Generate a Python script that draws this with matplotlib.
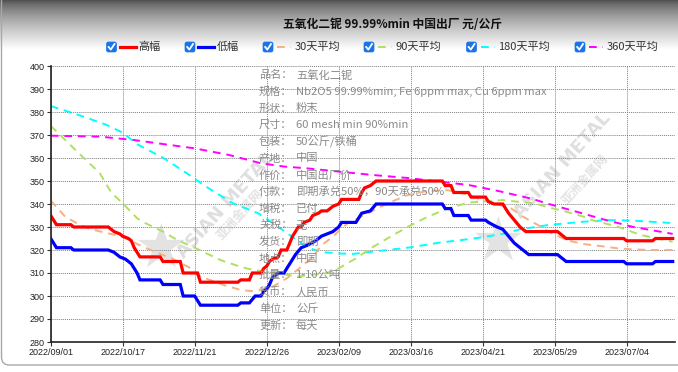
import matplotlib
matplotlib.use("Agg")
import matplotlib.pyplot as plt
import numpy as np
from matplotlib.patches import FancyBboxPatch
from matplotlib.lines import Line2D
from matplotlib.transforms import IdentityTransform

W, H = 678, 372
CJK = ["Noto Sans CJK SC", "DejaVu Sans"]

# ---- data (trading-day index, price) ----
date_labels = ["2022/09/01", "2022/10/17", "2022/11/21", "2022/12/26", "2023/02/09",
               "2023/03/16", "2023/04/21", "2023/05/29", "2023/07/04"]
tick_step = 25
last_day = 216

high_idx = [0, 1, 2, 7, 8, 20, 21, 22, 24, 25, 27, 28, 29, 31, 38, 39, 45, 46, 51, 52,
            65, 66, 69, 70, 73, 74, 75, 76, 77, 79, 80, 82, 83, 84, 85, 86, 87, 88, 90, 91,
            93, 94, 96, 97, 98, 100, 101, 107, 108, 109, 111, 113, 136, 137, 139, 140, 145,
            146, 151, 152, 154, 157, 158, 159, 161, 163, 165, 176, 178, 179, 199, 200, 209,
            210, 216]
high_val = [335, 333, 331, 331, 330, 330, 329, 328, 327, 326, 325, 324, 321, 317, 317, 315,
            315, 310, 310, 306, 306, 307, 307, 310, 310, 312, 313, 315, 316, 317, 320, 320,
            323, 326, 328, 330, 330, 332, 333, 335, 336, 337, 337, 338, 339, 340, 342, 342,
            345, 347, 348, 350, 350, 348, 348, 345, 345, 343, 343, 341, 340, 340, 338, 336,
            333, 330, 328, 328, 326, 325, 325, 324, 324, 325, 325]

low_idx = [0, 1, 2, 7, 8, 20, 22, 24, 26, 28, 30, 31, 38, 39, 45, 46, 50, 52, 65, 66, 69,
           71, 73, 74, 75, 76, 77, 79, 81, 82, 83, 85, 87, 89, 92, 94, 96, 98, 100, 101, 106,
           108, 111, 113, 136, 137, 139, 140, 145, 146, 151, 152, 155, 157, 159, 161, 162,
           164, 166, 176, 178, 179, 199, 200, 209, 210, 216]
low_val = [325, 323, 321, 321, 320, 320, 319, 317, 316, 314, 310, 307, 307, 305, 305, 300,
           300, 296, 296, 297, 297, 300, 300, 302, 303, 305, 308, 310, 310, 312, 314, 318,
           321, 322, 324, 326, 327, 328, 330, 332, 332, 336, 337, 340, 340, 338, 338, 335,
           335, 333, 333, 332, 330, 329, 326, 323, 322, 320, 318, 318, 316, 315, 315, 314,
           314, 315, 315]

ma30_idx = [0, 5, 10, 14, 19, 25, 30, 36, 42, 48, 52, 60, 66, 71, 77, 82, 87, 91, 94, 98,
            101, 103, 110, 117, 124, 131, 138, 145, 150, 155, 160, 164, 169, 173, 179, 185,
            191, 197, 202, 208, 216]
ma30 = [341.5, 334.5, 331, 329, 327.5, 325.8, 322.6, 319.3, 316.4, 312.5, 308.5, 304.8,
        302.6, 302, 304, 307.7, 312.7, 317, 322, 325.8, 329.4, 331.5, 335.9, 340.3, 343.9,
        345.7, 346, 344, 341.7, 340, 338, 334.5, 331, 328, 324.3, 322.6, 321.7, 320.7,
        320.3, 320, 320]

ma90_idx = [0, 9, 17, 21, 25, 30, 33, 39, 44, 50, 59, 64, 68, 74, 78, 86, 96, 100, 106,
            112, 118, 124, 131, 138, 145, 151, 157, 162, 168, 173, 179, 185, 188, 197, 205, 216]
ma90 = [374, 363, 353.5, 345, 340.3, 333.8, 331.6, 328, 324.3, 321, 315.6, 313.5, 312,
        310.6, 310, 308.5, 310, 312, 316.4, 321.4, 325.8, 330.1, 334.5, 338.1, 340.6, 341.2,
        341.7, 341, 340.3, 338.5, 336.7, 334.5, 333, 330.1, 326.5, 323.6]

ma180_idx = [0, 9, 19, 25, 30, 39, 47, 54, 63, 72, 78, 83, 87, 91, 95, 100, 105, 112, 124,
             135, 147, 157, 163, 173, 185, 194, 202, 216]
ma180 = [382.6, 379, 374.6, 371, 366, 360.1, 353.6, 347.5, 340.5, 336, 331, 326.5, 323,
         320.3, 319, 318.5, 318.3, 319.3, 321, 323.2, 325, 327, 329, 330.9, 332.3, 333,
         332.8, 331.7]

ma360_idx = [0, 17, 29, 40, 50, 62, 73, 81, 89, 100, 112, 124, 135, 145, 156, 167, 173,
             183, 192, 202, 216]
ma360 = [369.7, 369.3, 367.8, 365.9, 364.2, 361.3, 357.7, 356.3, 355.5, 354.1, 352.6,
         351.3, 349.7, 348.3, 345.5, 342.3, 340, 336.5, 333.3, 330.1, 327]

info_labels = ["品名：", "规格：", "形状：", "尺寸：", "包装：", "产地：", "作价：", "付款：",
               "增税：", "关税：", "发货：", "地点：", "批量：", "货币：", "单位：", "更新："]
info_values = ["五氧化二铌", "Nb2O5 99.99%min, Fe 6ppm max, Cu 6ppm max", "粉末",
               "60 mesh min 90%min", "50公斤/铁桶", "中国", "中国出厂价",
               "即期承兑50%，90天承兑50%", "已付", "无", "即期", "中国", "1-10公吨",
               "人民币", "公斤", "每天"]

series_names = ["高幅", "低幅", "30天平均", "90天平均", "180天平均", "360天平均"]
colors = ["#ff0000", "#0000ff", "#f4b183", "#b0e060", "#00ffff", "#ff00ff"]


def fx(px):
    return px / W


def fy(py):
    return 1 - py / H


fig = plt.figure(figsize=(W / 100, H / 100), dpi=100)
fig.patch.set_facecolor("white")

# grey gradient header
gax = fig.add_axes([0, fy(50), 1, 50 / H], zorder=0)
grad = np.linspace(0, 1, 200)[:, None] ** 0.7
gax.imshow(0.3 + 0.7 * grad, cmap="gray", vmin=0, vmax=1, aspect="auto",
           extent=[0, 1, 0, 1])
gax.axis("off")

# outer rounded frame
frame = FancyBboxPatch((1.5, 7), W + 20, H + 20, boxstyle="round,pad=0,rounding_size=8",
                       transform=IdentityTransform(), fill=False, ec="#a8a8a8", lw=1)
fig.patches.append(frame)

ax = fig.add_axes([fx(50.7), 30 / H, (675 - 50.7) / W, 276 / H], zorder=2)
ax.set_facecolor("none")

# watermarks
for (sx, sy), (tx, ty), (cx, cy) in [((160, 250), (225, 205), (240, 215)),
                                      ((497, 243), (562, 165), (585, 180))]:
    fig.text(fx(sx), fy(sy), "★", fontsize=44, color="#e3e3e3", ha="center",
             va="center", zorder=1)
    fig.text(fx(tx), fy(ty), "ASIAN METAL", fontsize=13, fontweight="bold",
             color="#dedede", rotation=48, ha="center", va="center", zorder=1)
    fig.text(fx(cx), fy(cy), "亚洲金属网", family=CJK, fontsize=9, fontweight="bold",
             color="#e3e3e3", rotation=48, ha="center", va="center", zorder=1)

dash = (0, (4, 3))
ax.plot(ma360_idx, ma360, color=colors[5], lw=1.4, ls=dash)
ax.plot(ma180_idx, ma180, color=colors[4], lw=1.4, ls=dash)
ax.plot(ma90_idx, ma90, color=colors[3], lw=1.4, ls=dash)
ax.plot(ma30_idx, ma30, color=colors[2], lw=1.4, ls=dash)
ax.plot(high_idx, high_val, color=colors[0], lw=2.3, solid_joinstyle="miter")
ax.plot(low_idx, low_val, color=colors[1], lw=2.3, solid_joinstyle="miter")

ax.set_xlim(0, last_day + 0.8)
ax.set_ylim(280, 400)
ax.set_yticks(range(280, 401, 10))
ax.set_xticks(range(0, tick_step * len(date_labels), tick_step))
ax.set_xticklabels(date_labels)
for lab in ax.get_xticklabels() + ax.get_yticklabels():
    lab.set_family("Liberation Sans")
    lab.set_fontsize(6.5)
    lab.set_color("#222222")
ax.tick_params(length=3, width=0.8, pad=1.5, color="#333333")
ax.grid(True, color="#808080", lw=0.7, ls=(0, (1, 1)))
ax.set_axisbelow(True)
for s in ["top", "right"]:
    ax.spines[s].set_visible(False)
for s in ["left", "bottom"]:
    ax.spines[s].set_color("#222222")
    ax.spines[s].set_linewidth(1.2)

# product info text
for i, (lab, val) in enumerate(zip(info_labels, info_values)):
    y = 75 + i * 16.7
    fig.text(fx(259), fy(y), lab, family=CJK, fontsize=8, color="#8a8a8a",
             va="center", zorder=5)
    fig.text(fx(296), fy(y), val, family=CJK, fontsize=8.1, color="#8a8a8a",
             va="center", zorder=5)

# title
fig.text(fx(392), fy(25), "五氧化二铌 99.99%min 中国出厂 元/公斤", family=CJK,
         fontsize=8.5, fontweight="bold", color="#111111", ha="center", va="center")

# legend with check boxes
box_x = [106.5, 185, 263, 364, 466.5, 575]
ly = H - 47
for i, name in enumerate(series_names):
    bx = box_x[i]
    box = FancyBboxPatch((bx, ly - 5), 10, 10, boxstyle="round,pad=0,rounding_size=2",
                         transform=IdentityTransform(), fc="#1a73e8", ec="#1a73e8", lw=0.5)
    fig.patches.append(box)
    fig.lines.append(Line2D([bx + 2.2, bx + 4.3, bx + 8], [ly, ly - 2.6, ly + 3],
                            transform=IdentityTransform(), color="white", lw=1.3))
    x0 = bx + 13
    if i < 2:
        fig.lines.append(Line2D([x0, x0 + 16], [ly, ly], transform=IdentityTransform(),
                                color=colors[i], lw=2.3))
    else:
        fig.lines.append(Line2D([x0 + 1, x0 + 15], [ly, ly], transform=IdentityTransform(),
                                color=colors[i], lw=1.4, ls=dash))
    fig.text((x0 + 19) / W, ly / H, name, family=CJK, fontsize=8, color="#333333",
             va="center")

fig.savefig("out.png", dpi=100)
